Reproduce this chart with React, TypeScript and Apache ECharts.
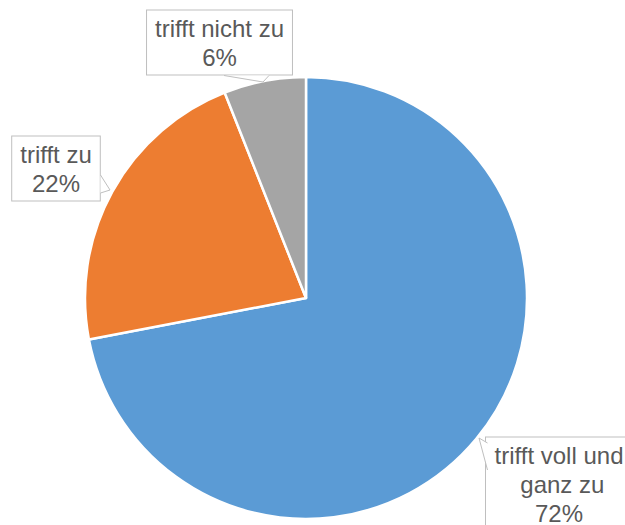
import React, { useEffect, useRef } from "react";
import * as echarts from "echarts";

const categories = ["trifft voll und ganz zu", "trifft zu", "trifft nicht zu"];
const values = [72, 22, 6];
const colors = ["#5B9BD5", "#ED7D31", "#A5A5A5"];

// label box centers (layout only)
const labelPos = [
  { x: 559, y: 484, width: 130 },
  { x: 56, y: 168.5, width: 0 },
  { x: 219.5, y: 42.5, width: 0 },
];

export default function App() {
  const ref = useRef<HTMLDivElement>(null);
  useEffect(() => {
    if (!ref.current) return;
    document.body.style.margin = "0";
    const chart = echarts.init(ref.current, undefined, { renderer: "svg" });
    const border = "#BFBFBF";
    const pointer = (pts: number[][], base: number[][]) => [
      {
        type: "polygon",
        z: 100,
        shape: { points: pts },
        style: { fill: "#fff", stroke: null },
      },
      {
        type: "polyline",
        z: 101,
        shape: { points: [base[0], pts.find((p, i) => i === 1)!, base[1]] },
        style: { stroke: border, lineWidth: 1, fill: null },
      },
    ];
    const option: any = {
      animation: false,
      backgroundColor: "#fff",
      series: [
        {
          type: "pie",
          center: [306, 298],
          radius: 221,
          startAngle: 90,
          clockwise: true,
          avoidLabelOverlap: false,
          itemStyle: { borderColor: "#fff", borderWidth: 2.5 },
          label: {
            show: true,
            position: "outside",
            formatter: "{b}\n{d}%",
            fontFamily: "Liberation Sans, Arial, sans-serif",
            fontSize: 24,
            lineHeight: 29,
            color: "#595959",
            align: "center",
            backgroundColor: "#fff",
            borderColor: border,
            borderWidth: 1,
            padding: [3, 8, 3, 8],
          },
          labelLine: { show: false },
          labelLayout: (params: any) => {
            const p = labelPos[params.dataIndex];
            return { x: p.x, y: p.y, align: "center", verticalAlign: "middle" };
          },
          data: categories.map((name, i) => ({
            name,
            value: values[i],
            itemStyle: { color: colors[i] },
            label:
              labelPos[i].width > 0
                ? { width: labelPos[i].width, overflow: "break" }
                : {},
          })),
        },
      ],
      graphic: [
        ...pointer(
          [
            [487.5, 443],
            [479, 438],
            [487.5, 470],
          ],
          [
            [487.5, 443],
            [487.5, 470],
          ]
        ),
        ...pointer(
          [
            [100.5, 175],
            [110, 190],
            [100.5, 193],
          ],
          [
            [100.5, 175],
            [100.5, 193],
          ]
        ),
        ...pointer(
          [
            [224, 75.5],
            [263, 82],
            [269, 75.5],
          ],
          [
            [224, 75.5],
            [269, 75.5],
          ]
        ),
      ],
    };
    chart.setOption(option);
    return () => chart.dispose();
  }, []);
  return (
    <div
      ref={ref}
      style={{ position: "fixed", left: 0, top: 0, width: 625, height: 525 }}
    />
  );
}
